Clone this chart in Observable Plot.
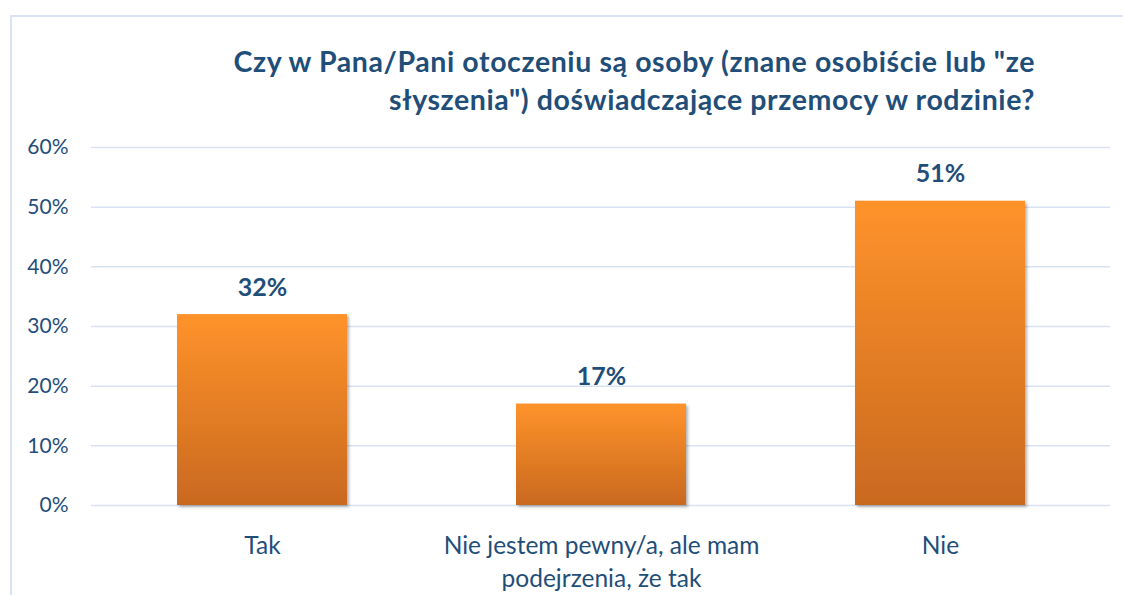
<!DOCTYPE html>
<html>
<head>
<meta charset="utf-8">
<script src="https://cdn.jsdelivr.net/npm/d3@7"></script>
<script src="https://cdn.jsdelivr.net/npm/@observablehq/plot@0.6"></script>
<style>
  html, body { margin: 0; padding: 0; width: 1123px; height: 595px; overflow: hidden; background: #fff; }
  #frame { position: absolute; left: 10px; top: 15px; width: 1300px; height: 800px;
           border-left: 2px solid #DAE3F3; border-top: 2px solid #DAE3F3; box-sizing: border-box; }
  #title { position: absolute; top: 42px; left: 0; width: 1123px; box-sizing: border-box; padding-right: 88px;
           text-align: right; font-family: Lato, "Open Sans", sans-serif; font-weight: bold; font-size: 28.5px;
           letter-spacing: 0.6px; line-height: 38px; color: #1F4E79; }
  #chart { position: absolute; top: 119px; left: 0; }
</style>
</head>
<body>
<div id="frame"></div>
<div id="title">Czy w Pana/Pani otoczeniu są osoby (znane osobiście lub "ze<br>słyszenia") doświadczające przemocy w rodzinie?</div>
<div id="chart"></div>
<script>
const categories = ["Tak", "Nie jestem pewny/a, ale mam podejrzenia, że tak", "Nie"];
const tickLabels = ["Tak", "Nie jestem pewny/a, ale mam\npodejrzenia, że tak", "Nie"];
const values = [0.32, 0.17, 0.51];
const yTicks = [0, 0.1, 0.2, 0.3, 0.4, 0.5, 0.6];

const data = categories.map((c, i) => ({category: c, value: values[i]}));
const labelOf = new Map(categories.map((c, i) => [c, tickLabels[i]]));

const plot = Plot.plot({
  width: 1123,
  height: 476,
  marginLeft: 91,
  marginRight: 13,
  marginTop: 28,
  marginBottom: 90,
  style: {fontFamily: "Lato, 'Open Sans', sans-serif", background: "transparent", overflow: "visible"},
  x: {domain: categories, paddingInner: 0.5, paddingOuter: 0.25, axis: null},
  y: {domain: [0, 0.6], axis: null},
  marks: [
    Plot.gridY(yTicks, {stroke: "#D9E2F3", strokeOpacity: 1, strokeWidth: 1.5}),
    Plot.axisY(yTicks, {tickSize: 0, tickPadding: 23, tickFormat: d3.format(".0%"), fontSize: 21, fill: "#1F4E79", label: null}),
    Plot.axisX(categories, {tickSize: 0, tickPadding: 25, tickFormat: d => labelOf.get(d), fontSize: 24.5, lineHeight: 1.35, fill: "#1F4E79", label: null, textOverflow: null, lineWidth: Infinity}),
    Plot.barY(data, {x: "category", y: "value", fill: "url(#barGrad)", className: "bars"}),
    Plot.text(data, {x: "category", y: "value", text: d => d3.format(".0%")(d.value), lineAnchor: "bottom", dy: -19, fontSize: 25, fontWeight: "bold", fill: "#1F4E79"})
  ]
});

const svg = d3.select(plot);
const defs = svg.insert("defs", ":first-child");
const grad = defs.append("linearGradient").attr("id", "barGrad").attr("x1", 0).attr("y1", 0).attr("x2", 0).attr("y2", 1);
grad.append("stop").attr("offset", "0%").attr("stop-color", "#FF932B");
grad.append("stop").attr("offset", "100%").attr("stop-color", "#C9691F");
const filt = defs.append("filter").attr("id", "barShadow").attr("x", "-10%").attr("y", "-10%").attr("width", "130%").attr("height", "130%");
filt.append("feDropShadow").attr("dx", 2).attr("dy", 2).attr("stdDeviation", 1.5).attr("flood-color", "#000").attr("flood-opacity", 0.3);
svg.selectAll("g.bars rect, g[aria-label='bar'] rect").attr("filter", "url(#barShadow)");

document.getElementById("chart").appendChild(plot);
</script>
</body>
</html>
